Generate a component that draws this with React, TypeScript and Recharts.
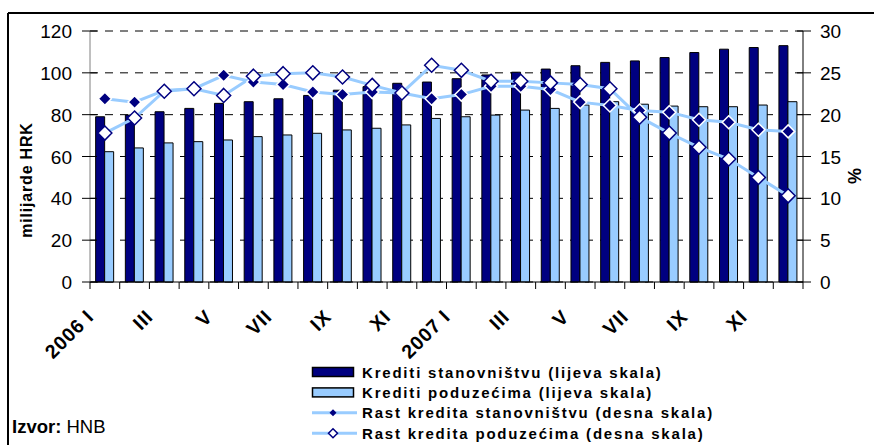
import React from "react";
import { ComposedChart, Bar, Line, XAxis, YAxis, CartesianGrid, Text } from "recharts";

// mjeseci 2006-2007
const months = [
  "2006 I", "II", "III", "IV", "V", "VI", "VII", "VIII", "IX", "X", "XI", "XII",
  "2007 I", "II", "III", "IV", "V", "VI", "VII", "VIII", "IX", "X", "XI", "XII",
];

// milijarde HRK
const householdLoans = [
  79.0, 79.8, 81.4, 83.0, 85.4, 86.2, 87.6, 89.2, 91.7, 93.4, 95.0, 95.6,
  97.2, 99.0, 100.3, 101.8, 103.4, 105.0, 105.7, 107.3, 109.7, 111.3, 112.1, 113.0,
];
const corporateLoans = [
  62.3, 64.1, 66.5, 67.1, 67.9, 69.5, 70.3, 71.1, 72.7, 73.5, 75.1, 78.2,
  79.0, 79.8, 82.2, 83.0, 84.6, 86.2, 85.0, 84.1, 83.8, 83.8, 84.6, 86.2,
];

// %
const householdGrowth = [
  21.9, 21.5, 22.9, 23.1, 24.7, 23.9, 23.6, 22.7, 22.4, 22.7, 22.6, 21.9,
  22.4, 23.4, 23.4, 23.0, 21.5, 21.1, 20.5, 20.3, 19.4, 19.1, 18.2, 18.0,
];
const corporateGrowth = [
  17.8, 19.6, 22.8, 23.1, 22.3, 24.6, 24.9, 25.0, 24.5, 23.5, 22.6, 25.9,
  25.3, 24.0, 24.0, 23.8, 23.6, 23.1, 19.7, 17.8, 16.1, 14.7, 12.5, 10.3,
];

const leftTicks = [0, 20, 40, 60, 80, 100, 120];
const rightTicks = [0, 5, 10, 15, 20, 25, 30];

const NAVY = "#000080";
const LIGHT = "#99CCFF";
const FONT = "'Liberation Sans', Arial, sans-serif";

const data = months.map((m, i) => ({
  month: m,
  hh: householdLoans[i],
  corp: corporateLoans[i],
  hhGrowth: householdGrowth[i],
  corpGrowth: corporateGrowth[i],
}));

const W = 874;
const H = 445;
const margin = { top: 31, right: 21, bottom: 123, left: 30 };
const band = (W - margin.left - margin.right - 60 - 50) / months.length;

const renderMonthTick = (props: any) => {
  const { x, y, payload, index } = props;
  const last = index === months.length - 1;
  return (
    <g key={`mt${index}`}>
      <line x1={x - band / 2} y1={y} x2={x - band / 2} y2={y + 7} stroke="#000" />
      {last && <line x1={x + band / 2} y1={y} x2={x + band / 2} y2={y + 7} stroke="#000" />}
      {index % 2 === 0 && (
        <Text
          x={x - 10}
          y={y + 36}
          angle={-45}
          textAnchor="end"
          verticalAnchor="end"
          fontFamily={FONT}
          fontWeight="bold"
          fontSize={19.5}
          letterSpacing={0.8}
          fill="#000"
        >
          {payload.value}
        </Text>
      )}
    </g>
  );
};

const LeftTick = ({ x, y, payload }: any) => (
  <g>
    <line x1={x + 10} y1={y} x2={x + 25} y2={y} stroke="#000" />
    <text x={x} y={y + 7} textAnchor="end" fontFamily={FONT} fontSize={19} fill="#000">
      {payload.value}
    </text>
  </g>
);

const RightTick = ({ x, y, payload }: any) => (
  <g>
    <line x1={x - 23} y1={y} x2={x - 9} y2={y} stroke="#000" />
    <text x={x} y={y + 7} textAnchor="start" fontFamily={FONT} fontSize={19} fill="#000">
      {payload.value}
    </text>
  </g>
);

const diamond = (cx: number, cy: number, r: number) =>
  `M${cx},${cy - r}L${cx + r},${cy}L${cx},${cy + r}L${cx - r},${cy}Z`;

const FilledDot = (props: any) => {
  const { cx, cy, index } = props;
  return <path key={`hd${index}`} d={diamond(cx, cy, 6.5)} fill={NAVY} stroke="#fff" strokeWidth={1.5} />;
};

const OpenDot = (props: any) => {
  const { cx, cy, index } = props;
  return <path key={`cd${index}`} d={diamond(cx, cy, 7)} fill="#fff" stroke={NAVY} strokeWidth={1.5} />;
};

const legendItems = [
  { name: "Krediti stanovništvu (lijeva skala)", kind: "bar", color: NAVY },
  { name: "Krediti poduzećima (lijeva skala)", kind: "bar", color: LIGHT },
  { name: "Rast kredita stanovništvu (desna skala)", kind: "filled", color: LIGHT },
  { name: "Rast kredita poduzećima (desna skala)", kind: "open", color: LIGHT },
];

export default function App() {
  return (
    <div style={{ position: "absolute", left: 0, top: 0, width: W, height: H, overflow: "hidden", background: "#fff" }}>
      <ComposedChart
        width={W}
        height={H}
        data={data}
        margin={margin}
        barGap={0}
        barCategoryGap="19%"
      >
        <CartesianGrid yAxisId="left" vertical={false} stroke="#000" strokeDasharray="8 7" />
        <XAxis
          dataKey="month"
          interval={0}
          height={40}
          tickSize={0}
          tickMargin={0}
          tickLine={false}
          axisLine={{ stroke: "#000" }}
          tick={renderMonthTick}
        />
        <YAxis
          yAxisId="left"
          orientation="left"
          width={60}
          domain={[0, 120]}
          ticks={leftTicks}
          tickSize={8}
          tickMargin={10}
          tickLine={false}
          axisLine={{ stroke: "#808080" }}
          tick={<LeftTick />}
          label={{
            content: () => (
              <text
                transform="translate(32,180) rotate(-90)"
                textAnchor="middle"
                fontFamily={FONT}
                fontWeight="bold"
                fontSize={16}
                letterSpacing={0.8}
                fill="#000"
              >
                milijarde HRK
              </text>
            ),
          }}
        />
        <YAxis
          yAxisId="right"
          orientation="right"
          width={50}
          domain={[0, 30]}
          ticks={rightTicks}
          tickSize={8}
          tickMargin={9}
          tickLine={false}
          axisLine={{ stroke: "#000" }}
          tick={<RightTick />}
          label={{
            content: () => (
              <text
                transform="translate(861,176) rotate(-90)"
                textAnchor="middle"
                fontFamily={FONT}
                fontWeight="bold"
                fontSize={18}
                fill="#000"
              >
                %
              </text>
            ),
          }}
        />
        <Bar yAxisId="left" dataKey="hh" fill={NAVY} stroke="#000" strokeWidth={1} isAnimationActive={false} />
        <Bar yAxisId="left" dataKey="corp" fill={LIGHT} stroke="#000" strokeWidth={1} isAnimationActive={false} />
        <Line
          yAxisId="right"
          type="linear"
          dataKey="hhGrowth"
          stroke={LIGHT}
          strokeWidth={3}
          dot={FilledDot}
          activeDot={false}
          isAnimationActive={false}
        />
        <Line
          yAxisId="right"
          type="linear"
          dataKey="corpGrowth"
          stroke={LIGHT}
          strokeWidth={3}
          dot={OpenDot}
          activeDot={false}
          isAnimationActive={false}
        />
      </ComposedChart>

      <svg width={W} height={H} style={{ position: "absolute", left: 0, top: 0, pointerEvents: "none" }}>
        <line x1={8} y1={13} x2={W} y2={13} stroke="#000" strokeWidth={2} />
        <line x1={8} y1={13} x2={8} y2={H} stroke="#000" strokeWidth={2} />
        {legendItems.map((item, i) => {
          const cy = 372 + i * 20.4;
          return (
            <g key={item.name}>
              {item.kind === "bar" ? (
                <rect x={312.5} y={cy - 4.5} width={41} height={9} fill={item.color} stroke="#000" strokeWidth={1.5} />
              ) : (
                <g>
                  <line x1={312} y1={cy} x2={357} y2={cy} stroke={item.color} strokeWidth={3} />
                  {item.kind === "filled" ? (
                    <path d={diamond(333, cy, 3.5)} fill={NAVY} />
                  ) : (
                    <path d={diamond(333, cy, 4.5)} fill="#fff" stroke={NAVY} strokeWidth={1.5} />
                  )}
                </g>
              )}
              <text x={362} y={cy + 5.5} fontFamily={FONT} fontWeight="bold" fontSize={15} letterSpacing={1.8} fill="#000">
                {item.name}
              </text>
            </g>
          );
        })}
        <text x={12} y={433} fontFamily={FONT} fontSize={18.5} fill="#000">
          <tspan fontWeight="bold">Izvor:</tspan> HNB
        </text>
      </svg>
    </div>
  );
}
